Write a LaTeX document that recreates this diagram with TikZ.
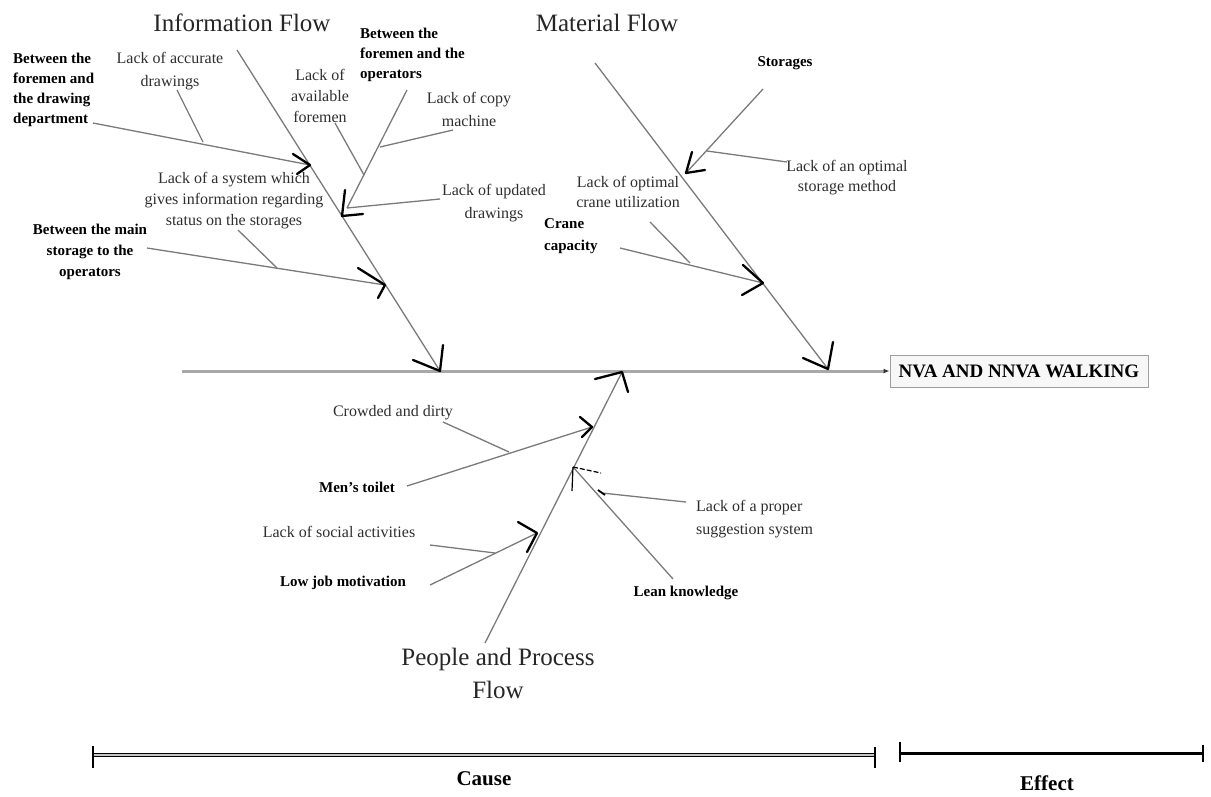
\documentclass[tikz,border=0pt]{standalone}
\usepackage{fontspec}
\setmainfont{Liberation Serif}
\usetikzlibrary{arrows.meta}
\definecolor{bonegray}{HTML}{7A7A7A}
\definecolor{spinegray}{HTML}{A8A8A8}
\definecolor{textgray}{HTML}{2E2E2E}
\begin{document}
\begin{tikzpicture}[x=1pt,y=-1pt,
  bone/.style={draw=bonegray, line width=1.3pt},
  spine/.style={draw=spinegray, line width=3pt},
  vee/.style={draw=black, line width=2.3pt, line cap=round, line join=round},
  thinvee/.style={draw=black, line width=1.2pt},
  lbl/.style={font=\fontsize{16}{22}\selectfont, text=textgray, inner sep=0pt, align=center},
  blbl/.style={font=\fontsize{15}{20}\selectfont\bfseries, text=black, inner sep=0pt, align=center},
  ttl/.style={font=\fontsize{25}{33}\selectfont, text=black!85, inner sep=0pt, align=center},
  effectbox/.style={draw=gray!75, fill=gray!6, line width=1pt, minimum width=258pt, minimum height=32pt, inner sep=0pt, font=\fontsize{19}{22}\selectfont\bfseries},
  barline/.style={draw=black, line width=1.4pt, double=gray!45, double distance=1.6pt},
  tick/.style={draw=black, line width=2.4pt}
]
\useasboundingbox (0,0) rectangle (1211,796);

% ---------- titles ----------
\node[ttl] (tInfo) at (242,23) {Information Flow};
\node[ttl] (tMat) at (607,23) {Material Flow};
\node[ttl] (tPpl) at (498,673) {People and Process\\Flow};

% ---------- effect and spine ----------
\node[effectbox] (effect) at (1019,371) {NVA AND NNVA WALKING};
\coordinate (spL) at (182,371);
\draw[spine, -{Latex[length=6pt,width=5pt,color=gray!40!black]}] (spL) -- (effect.west);

% ---------- main bones ----------
\coordinate (infoTop) at (237,50);  \coordinate (infoTip) at (440,371);
\coordinate (matTop) at (595,63);   \coordinate (matTip) at (828,369);
\coordinate (pplBot) at (485,643);  \coordinate (pplTip) at (622,372);
\draw[bone] (infoTop) -- (infoTip);
\draw[bone] (matTop) -- (matTip);
\draw[bone] (pplBot) -- (pplTip);
\draw[vee] (infoTip) ++(-27,-11) -- (infoTip) -- ++(3,-26);
\draw[vee] (matTip) ++(-25,-11) -- (matTip) -- ++(5,-27);
\draw[vee] (pplTip) ++(-27,7) -- (pplTip) -- ++(6,20);

% ---------- information flow ----------
\node[blbl, align=left, anchor=west] (lDraw) at (13,90) {Between the\\foremen and\\the drawing\\department};
\coordinate (drawS) at (93,123); \coordinate (drawT) at (310,165);
\draw[bone] (drawS) -- (drawT);
\draw[vee] (drawT) ++(-17,-11) -- (drawT) -- ++(-13,9);

\node[lbl, font=\fontsize{16}{23}\selectfont] (lAcc) at (170,71) {Lack of accurate\\drawings};
\coordinate (accS) at (177,90); \coordinate (accT) at (203,142);
\draw[bone] (accS) -- (accT);

\node[blbl, align=left, anchor=west] (lOper) at (360,55) {Between the\\foremen and the\\operators};
\coordinate (operS) at (407,90); \coordinate (operT) at (342,216);
\coordinate (operE) at (347,208);
\draw[bone] (operS) -- (operE);
\draw[vee] (operT) ++(3,-26) -- (operT) -- ++(21,-2);

\node[lbl, font=\fontsize{16}{21}\selectfont] (lAvail) at (320,96) {Lack of\\available\\foremen};
\coordinate (availS) at (335,123); \coordinate (availT) at (364,175);
\draw[bone] (availS) -- (availT);

\node[lbl, font=\fontsize{16}{23}\selectfont] (lCopy) at (469,109) {Lack of copy\\machine};
\coordinate (copyS) at (453,130); \coordinate (copyT) at (380,147);
\draw[bone] (copyS) -- (copyT);

\node[lbl, font=\fontsize{16}{23}\selectfont] (lUpd) at (494,203) {Lack of updated\\drawings};
\coordinate (updS) at (440,199);
\draw[bone] (updS) -- (operE);

\node[blbl, font=\fontsize{15}{21}\selectfont\bfseries] (lMain) at (90,252) {Between the main\\storage to the\\operators};
\coordinate (mainS) at (147,248); \coordinate (mainT) at (385,285);
\draw[bone] (mainS) -- (mainT);
\draw[vee] (mainT) ++(-27,-17) -- (mainT) -- ++(-7,13);

\node[lbl, font=\fontsize{16}{21}\selectfont] (lSys) at (234,201) {Lack of a system which\\gives information regarding\\status on the storages};
\coordinate (sysS) at (238,230); \coordinate (sysT) at (277,268);
\draw[bone] (sysS) -- (sysT);

% ---------- material flow ----------
\node[blbl] (lStor) at (785,63) {Storages};
\coordinate (storS) at (763,89); \coordinate (storT) at (686,173);
\draw[bone] (storS) -- (storT);
\draw[vee] (storT) ++(6,-21) -- (storT) -- ++(19,-3);

\node[lbl, font=\fontsize{16}{20}\selectfont] (lOptS) at (847,178) {Lack of an optimal\\storage method};
\coordinate (optS) at (787,162); \coordinate (optT) at (707,151);
\draw[bone] (optS) -- (optT);

\node[blbl, align=left, anchor=west, font=\fontsize{15}{22}\selectfont\bfseries] (lCap) at (544,236) {Crane\\capacity};
\coordinate (capS) at (620,248); \coordinate (capT) at (763,283);
\draw[bone] (capS) -- (capT);
\draw[vee] (capT) ++(-20,-18) -- (capT) -- ++(-21,12);

\node[lbl, font=\fontsize{16}{20}\selectfont] (lUtil) at (628,192) {Lack of optimal\\crane utilization};
\coordinate (utilS) at (650,222); \coordinate (utilT) at (690,263);
\draw[bone] (utilS) -- (utilT);

% ---------- people and process flow ----------
\node[lbl] (lCrowd) at (393,413) {Crowded and dirty};
\coordinate (crowdS) at (443,422); \coordinate (crowdT) at (509,452);
\draw[bone] (crowdS) -- (crowdT);

\node[blbl] (lToilet) at (357,487) {Men’s toilet};
\coordinate (toilS) at (407,486); \coordinate (toilT) at (592,427);
\draw[bone] (toilS) -- (toilT);
\draw[vee] (toilT) ++(-12,-10) -- (toilT) -- ++(-10,10);

\node[lbl] (lSoc) at (339,532) {Lack of social activities};
\coordinate (socS) at (430,545); \coordinate (socT) at (495,553);
\draw[bone] (socS) -- (socT);

\node[blbl] (lMot) at (343,583) {Low job motivation};
\coordinate (motS) at (430,585); \coordinate (motT) at (537,533);
\draw[bone] (motS) -- (motT);
\draw[vee] (motT) ++(-19,-11) -- (motT) -- ++(-10,19);

\node[blbl] (lLean) at (686,593) {Lean knowledge};
\coordinate (leanS) at (673,579); \coordinate (leanT) at (573,467);
\draw[bone] (leanS) -- (leanT);
\draw[thinvee] (leanT) ++(-1,24) -- (leanT);
\draw[thinvee, dash pattern=on 5pt off 2pt] (leanT) -- ++(28,6);

\node[lbl, align=left, anchor=west, font=\fontsize{16}{23}\selectfont] (lProp) at (696,519) {Lack of a proper\\suggestion system};
\coordinate (propS) at (686,502); \coordinate (propT) at (602,493);
\draw[bone] (propS) -- (propT);
\draw[draw=black, line width=1.8pt] (propT) ++(-4,-3) -- ++(7,5);

% ---------- cause / effect scale ----------
\coordinate (cauL) at (93,755);  \coordinate (cauR) at (875,755);
\coordinate (effL) at (900,753); \coordinate (effR) at (1203,753);
\draw[barline] (cauL) -- (cauR);
\draw[tick] (cauL) ++(0,-9) -- ++(0,22);
\draw[tick] (cauR) ++(0,-8) -- ++(0,21);
\draw[draw=black, line width=3pt] (effL) -- (effR);
\draw[tick] (effL) ++(0,-11) -- ++(0,20);
\draw[tick] (effR) ++(0,-8) -- ++(0,17);
\node[blbl, font=\fontsize{21}{24}\selectfont\bfseries] (lCause) at (484,779) {Cause};
\node[blbl, font=\fontsize{21}{24}\selectfont\bfseries] (lEffect) at (1047,783) {Effect};
\end{tikzpicture}
\end{document}
